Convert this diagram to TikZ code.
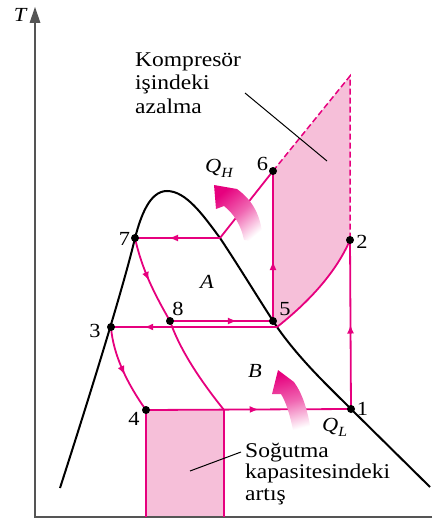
\documentclass[tikz,border=0pt]{standalone}
\usepackage{fontspec}
\setmainfont{Liberation Serif}
\newfontfamily\widefont{Liberation Serif}[FakeStretch=1.12]
\usetikzlibrary{arrows.meta,decorations.markings}
\definecolor{mag}{HTML}{E6007E}
\definecolor{pinkfill}{HTML}{F6BFD9}
\definecolor{axisgray}{HTML}{555555}
\tikzset{
  cyc/.style={draw=mag,line width=1.8pt},
  dome/.style={draw=black,line width=2pt},
  dot/.style={circle,fill=black,inner sep=0pt,minimum size=8pt},
  lbl/.style={anchor=base,inner sep=0pt,font=\widefont\fontsize{20}{24}\selectfont},
  txt/.style={anchor=base west,inner sep=0pt,align=left,font=\widefont\fontsize{21}{23.5}\selectfont},
  leader/.style={draw=black,line width=1pt},
  midarrow/.style={postaction={decorate},decoration={markings,mark=at position #1 with {\arrow{Latex[length=9pt,width=7pt]}}}},
  dashline/.style={draw=mag,line width=1.5pt,dash pattern=on 6pt off 3pt}
}
\begin{document}
\begin{tikzpicture}[x=1pt,y=-1pt]
\useasboundingbox (0,0) rectangle (432,519);
% coordinates
\coordinate (p1) at (351,409);
\coordinate (p2) at (350,240);
\coordinate (p3) at (111,327);
\coordinate (p4) at (146,410);
\coordinate (p5) at (273,321);
\coordinate (p5b) at (277,327);
\coordinate (p6) at (273,171);
\coordinate (p7) at (135,238);
\coordinate (p8) at (170,321);
\coordinate (top) at (350,76);
\coordinate (cross) at (220,238);
\coordinate (q) at (224,410);
\coordinate (b4) at (146,517);
\coordinate (bq) at (224,517);
% pink fills
\fill[pinkfill] (p6) -- (top) -- (p2) .. controls (335,275) and (305,305) .. (p5b) -- (p5) -- cycle;
\fill[pinkfill] (p4) rectangle (bq);
% axes
\draw[axisgray,line width=2pt] (432,517) -- (35,517) -- (35,20);
\fill[axisgray] (35,7) -- (29.5,23) -- (40.5,23) -- cycle;
% dome
\draw[dome] (60,488) .. controls (90,395) and (124,285) .. (p7)
  .. controls (141,215) and (150,191) .. (167,191)
  .. controls (186,191) and (203,215) .. (cross)
  .. controls (240,268) and (258,298) .. (p5b)
  .. controls (300,360) and (330,388) .. (p1)
  -- (430,487);
% cycle lines
\draw[cyc,midarrow=0.6] (cross) -- (p7);
\draw[cyc] (cross) -- (p6);
\draw[cyc,midarrow=0.4] (p5) -- (p6);
\draw[cyc] (p5b) .. controls (305,305) and (335,275) .. (p2);
\draw[cyc,midarrow=0.5] (p1) -- (p2);
\draw[cyc,midarrow=0.55] (p4) -- (p1);
\draw[cyc,midarrow=0.65] (p8) -- (p5);
\draw[cyc,midarrow=0.8] (p5b) -- (p3);
\draw[cyc,midarrow=0.5] (p7) .. controls (142,270) and (155,295) .. (p8);
\draw[cyc] (p8) .. controls (180,350) and (200,380) .. (q);
\draw[cyc,midarrow=0.55] (p3) .. controls (113,355) and (128,385) .. (p4);
\draw[cyc] (p4) -- (b4);
\draw[cyc] (q) -- (bq);
\draw[dashline] (p6) -- (top) -- (p2);
% heat arrows
\shade[top color=mag,bottom color=white,middle color=mag!60,shading angle=40]
  (214,185) -- (237,189) .. controls (252,200) and (262,215) .. (263,243)
  -- (244,240) .. controls (241,225) and (234,214) .. (224,206) -- (216,209) -- cycle;
\shade[top color=mag,bottom color=white,middle color=mag!60,shading angle=15]
  (278,370) -- (294,382) .. controls (302,393) and (308,410) .. (311,432)
  -- (293,430) .. controls (290,415) and (286,402) .. (281,394) -- (272,394) -- cycle;
% dots
\foreach \p in {1,2,3,4,5,6,7,8} \node[dot] (d\p) at (p\p) {};
% labels
\node[lbl] (l1) at (362.5,415) {1};
\node[lbl] (l2) at (362,248) {2};
\node[lbl] (l3) at (95,337) {3};
\node[lbl] (l4) at (134,425) {4};
\node[lbl] (l5) at (285,315) {5};
\node[lbl] (l6) at (262.5,170) {6};
\node[lbl] (l7) at (124.5,245) {7};
\node[lbl] (l8) at (178,315) {8};
\node[lbl] (lA) at (207,288) {\itshape A};
\node[lbl] (lB) at (255,377) {\itshape B};
\node[lbl] (lT) at (20,22) {\itshape T};
\node[lbl,anchor=base west] (lQH) at (205,172) {\itshape Q\raisebox{-0.28em}{\fontsize{14}{14}\selectfont H}};
\node[lbl,anchor=base west] (lQL) at (322,431) {\itshape Q\raisebox{-0.28em}{\fontsize{14}{14}\selectfont L}};
% texts
\node[txt] (komp) at (135,113) {Kompresör\\işindeki\\azalma};
\coordinate (k1) at (245,93);
\coordinate (k2) at (327,161);
\draw[leader] (k1) -- (k2);
\node[txt,font=\widefont\fontsize{21}{21.5}\selectfont] (sog) at (245,500) {Soğutma\\kapasitesindeki\\artış};
\coordinate (s1) at (190,471);
\coordinate (s2) at (241,452);
\draw[leader] (s1) -- (s2);
\end{tikzpicture}
\end{document}
